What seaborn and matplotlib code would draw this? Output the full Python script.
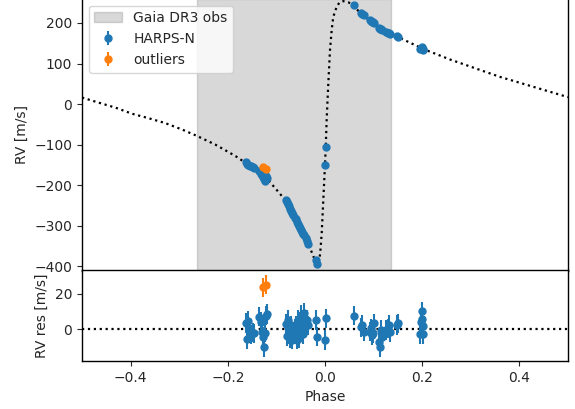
import numpy as np
import pandas as pd
import matplotlib
matplotlib.use("Agg")
import matplotlib.pyplot as plt
import seaborn as sns

# ---- model curve ----
model_phase = [-0.500, -0.466, -0.431, -0.397, -0.363, -0.329, -0.294, -0.263,
               -0.226, -0.195, -0.178, -0.150, -0.113, -0.093, -0.079, -0.060,
               -0.045, -0.034, -0.024, -0.019, -0.016, -0.013, -0.010, -0.0068,
               -0.0035, 0.0000, 0.0016, 0.0034, 0.0068, 0.0103, 0.0137, 0.0170,
               0.0240, 0.0300, 0.0377, 0.0480, 0.0580, 0.0720, 0.0950, 0.1150,
               0.1475, 0.2020, 0.2570, 0.3600, 0.4300, 0.5000]
model_rv = [16, 3.5, -9, -24, -35, -47, -63, -79,
            -100, -121, -133, -158, -193, -221, -242, -282,
            -317, -345, -376, -389, -396, -392, -370, -320,
            -238, -150, -105, -40, 50, 133, 182, 215,
            240, 251, 254, 251, 245, 225, 204, 185,
            167, 136, 110, 67, 42, 17]

# ---- HARPS-N data ----
harps_phase = [-0.163, -0.161, -0.158, -0.155, -0.152, -0.149, -0.146,
               -0.135, -0.132, -0.130, -0.128, -0.126, -0.124, -0.122, -0.120,
               -0.081, -0.079, -0.077, -0.075, -0.072, -0.070, -0.067, -0.065,
               -0.062, -0.060, -0.057, -0.055, -0.053, -0.051, -0.049, -0.047,
               -0.045, -0.043, -0.040, -0.037, -0.034,
               -0.0185, -0.016, 0.0016, 0.0003,
               0.060, 0.075, 0.077, 0.080,
               0.093, 0.095, 0.097, 0.098, 0.100,
               0.112, 0.114, 0.115, 0.117,
               0.126, 0.129, 0.131, 0.134,
               0.148, 0.150,
               0.195, 0.198, 0.200, 0.201, 0.202, 0.200]
harps_rv = [-144, -148, -150, -152, -154, -156, -158,
            -166, -172, -176, -180, -186, -190, -178, -183,
            -237, -242, -247, -251, -258, -263, -269, -274,
            -281, -285, -292, -297, -302, -306, -311, -315,
            -320, -324, -331, -338, -345,
            -386, -394, -105, -151,
            244, 225, 222, 219,
            207, 204, 203, 202, 200,
            187, 185, 184, 182,
            178, 176, 175, 174,
            167, 166,
            136, 139, 141, 137, 134, 138]
harps_res = [3.5, -5.5, 4.5, -1.0, -3.0, -2.0, -2.5,
             7.0, 4.0, -1.5, -4.5, -10.0, -2.0, 7.5, 8.5,
             3.0, -4.0, 5.0, -3.0, -5.0, 2.0, -6.0, -3.0,
             0.0, 2.0, -6.0, 5.0, -5.0, 3.0, 8.0, 0.0,
             -3.0, 9.0, 2.0, 5.0, 2.0,
             5.0, -4.3, 6.0, -6.2,
             7.5, 1.0, 2.2, -1.5,
             -1.5, 0.4, -3.4, -2.4, 3.2,
             -7.1, -10.0, -0.6, -4.3,
             -0.6, 0.4, 2.2, -1.6,
             2.2, 3.2,
             -3.0, 4.1, 10.0, 1.7, -3.0, 5.4]
harps_err = [5.5] * len(harps_phase)

# ---- outliers ----
out_phase = [-0.127, -0.122]
out_rv = [-155, -160]
out_res = [23.5, 25.0]
out_err = [5.5, 5.5]

# ---- Gaia DR3 observation window ----
gaia_window = [-0.264, 0.135]

sns.set_style("ticks")
plt.rcParams['font.family'] = ['DejaVu Sans']
plt.rcParams['font.size'] = 10
plt.rcParams['xtick.direction'] = 'out'
plt.rcParams['ytick.direction'] = 'out'

blue = '#1f77b4'
orange = '#ff7f0e'

fig = plt.figure(figsize=(5.75, 4.09), dpi=100)
ax1 = fig.add_axes([0.1426, 0.3386, 0.8452, 0.6646])
ax2 = fig.add_axes([0.1426, 0.1174, 0.8452, 0.2213], sharex=ax1)

model_df = pd.DataFrame({"phase": model_phase, "rv": model_rv})
sns.lineplot(data=model_df, x="phase", y="rv", ax=ax1, sort=False,
             color='black', linestyle=':', linewidth=1.6, zorder=2)

ax1.axvspan(gaia_window[0], gaia_window[1], color='gray', alpha=0.3,
            label='Gaia DR3 obs', zorder=0)

ax1.errorbar(harps_phase, harps_rv, yerr=harps_err, fmt='o', color=blue,
             ms=5, elinewidth=1.5, label='HARPS-N', zorder=3)
ax1.errorbar(out_phase, out_rv, yerr=out_err, fmt='o', color=orange,
             ms=5, elinewidth=1.5, label='outliers', zorder=3)

ax1.set_xlim(-0.5, 0.5)
ax1.set_ylim(-411, 260)
ax1.set_ylabel('RV [m/s]')
ax1.set_xlabel('')
ax1.set_yticks([-400, -300, -200, -100, 0, 100, 200])
ax1.tick_params(axis='x', labelbottom=False, length=0)
ax1.legend(loc='upper left', fontsize=10)

# residuals
zero_df = pd.DataFrame({"phase": [-0.5, 0.5], "res": [0, 0]})
sns.lineplot(data=zero_df, x="phase", y="res", ax=ax2, color='black',
             linestyle=':', linewidth=1.6, zorder=2)
ax2.errorbar(harps_phase, harps_res, yerr=harps_err, fmt='o', color=blue,
             ms=5, elinewidth=1.5, zorder=3)
ax2.errorbar(out_phase, out_res, yerr=out_err, fmt='o', color=orange,
             ms=5, elinewidth=1.5, zorder=3)
ax2.set_xlim(-0.5, 0.5)
ax2.set_ylim(-18, 33)
ax2.set_yticks([0, 20])
ax2.set_xticks([-0.4, -0.2, 0.0, 0.2, 0.4])
ax2.set_xlabel('Phase')
ax2.set_ylabel('RV res [m/s]')

for ax in (ax1, ax2):
    for s in ax.spines.values():
        s.set_color('black')
        s.set_linewidth(1.0)

fig.savefig('out.png', dpi=100)
